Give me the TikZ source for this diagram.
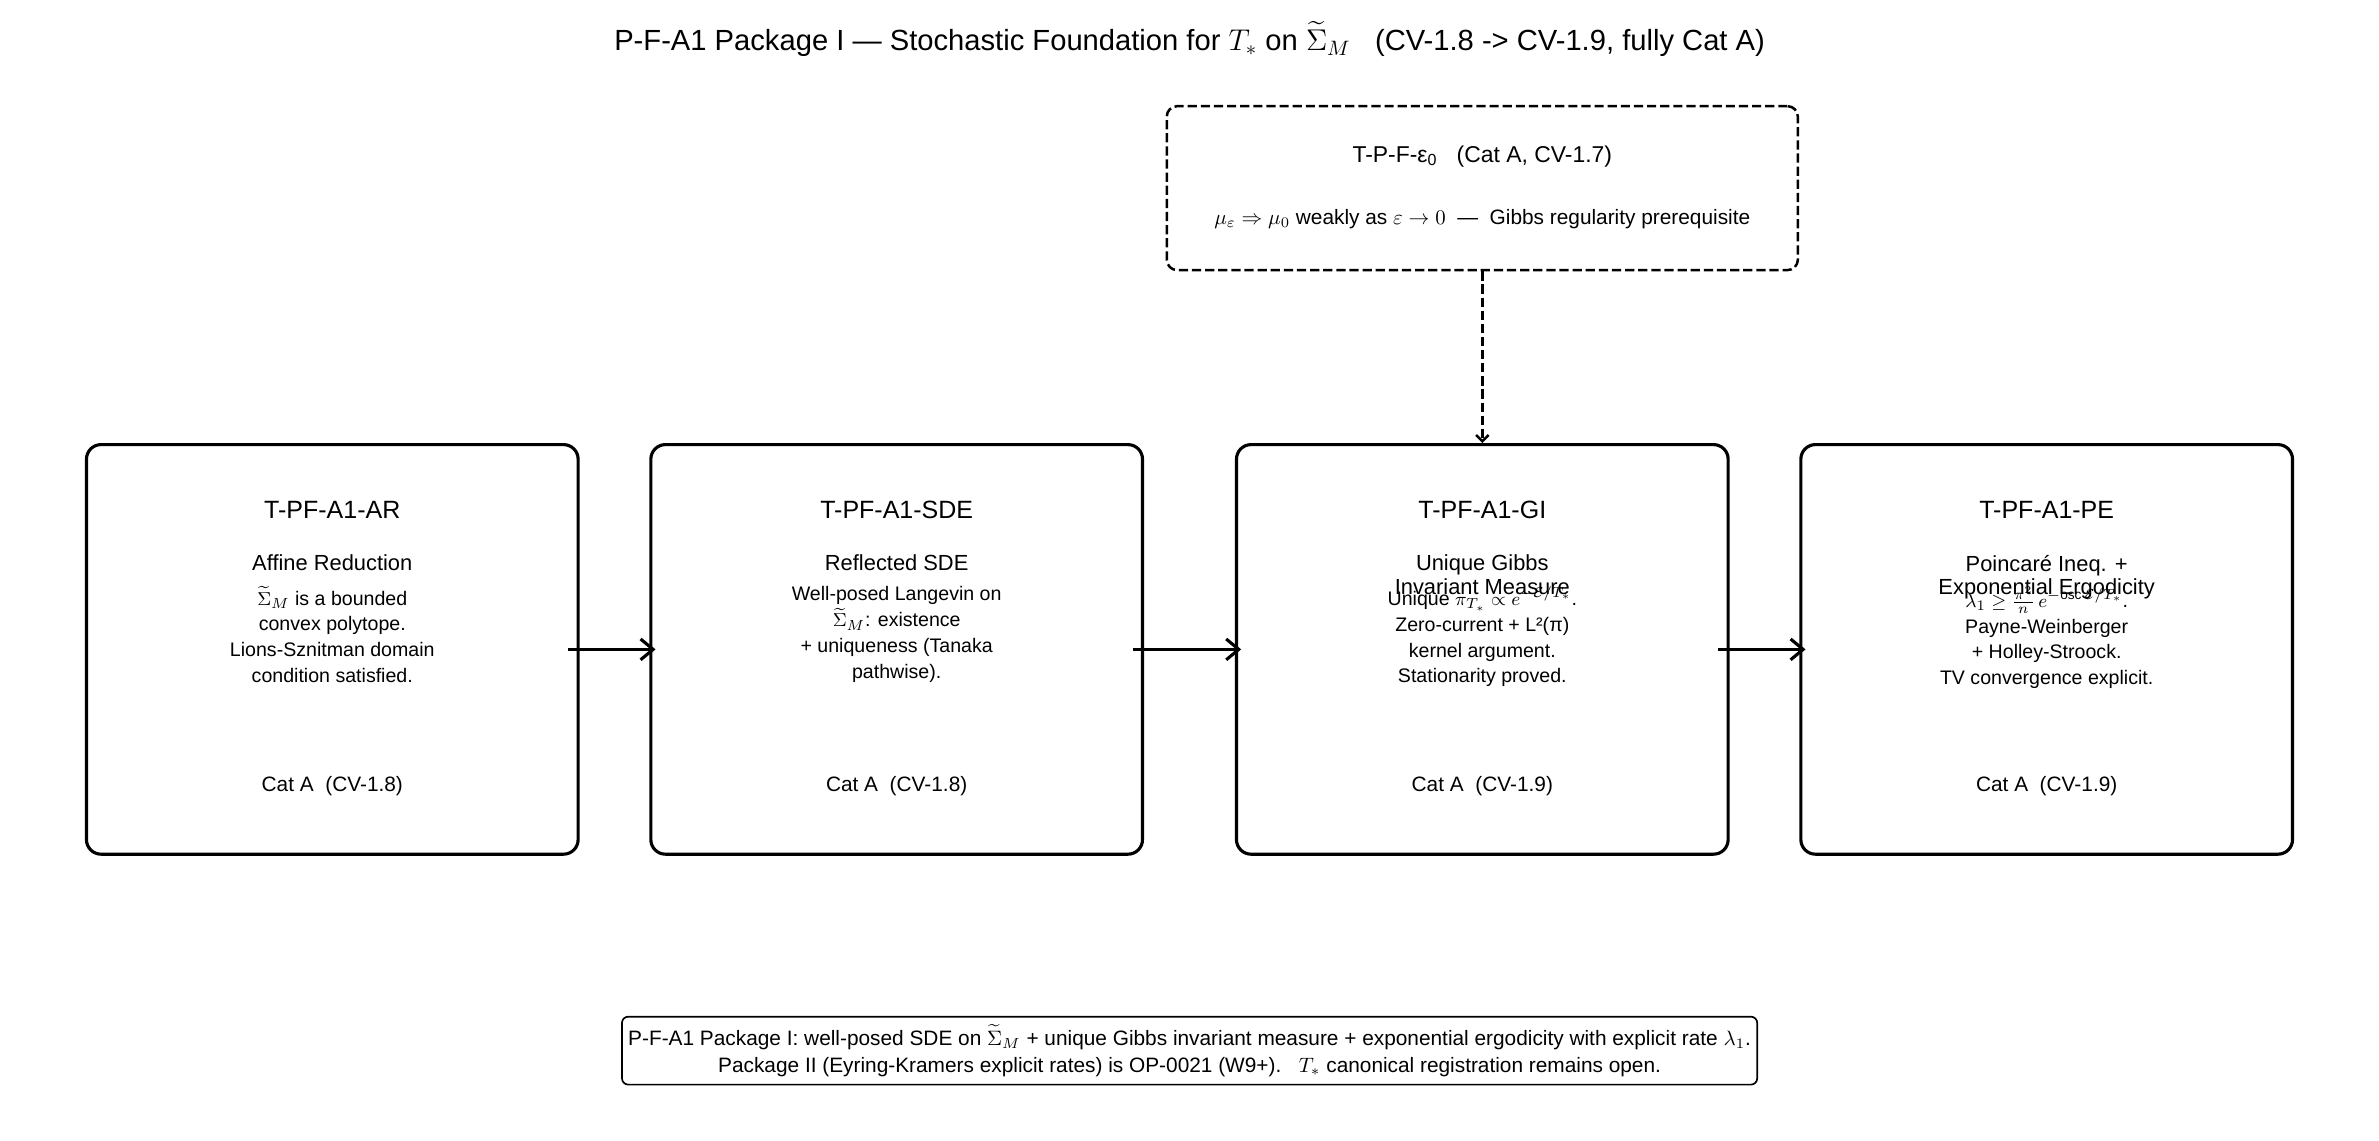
\documentclass[tikz,border=0pt]{standalone}
\usepackage{fontspec}
\setmainfont{Liberation Sans}
\usepackage{amsmath,amssymb}
\usetikzlibrary{positioning,arrows.meta}

\begin{document}
\begin{tikzpicture}[>={Straight Barb[length=6pt,width=10pt]}, node distance=270.9pt, align=center,
  stage/.style={draw, line width=1.5pt, rounded corners=7pt, minimum width=236pt, minimum height=196.6pt},
  stagetitle/.style={font=\fontsize{12}{14.4}\selectfont},
  stagesub/.style={anchor=north, inner sep=0pt, font=\fontsize{10.5}{11.5}\selectfont},
  stagebody/.style={anchor=north, inner sep=0pt, font=\fontsize{9.4}{12.4}\selectfont},
  stagecat/.style={font=\fontsize{10}{12}\selectfont},
  flow/.style={->, line width=1.5pt}]

% Canvas
\useasboundingbox (0,0) rectangle (1141.92pt,-547.2pt);

% Title
\node (title) at (571pt,-18.9pt) [font=\fontsize{14}{16}\selectfont] {P-F-A1 Package I — Stochastic Foundation for $T_*$ on $\widetilde{\Sigma}_M$\ \ \ (CV-1.8 -> CV-1.9, fully Cat A)};

% Stages
\node (ar) at (159.5pt,-311.7pt) [stage] {};
\node (sde) [right of=ar, stage] {};
\node (gi) [right of=sde, node distance=281.1pt, stage] {};
\node (pe) [right of=gi, stage] {};

% Prerequisite
\node (eps) [above of=gi, node distance=221.4pt, draw, line width=1.2pt, dash pattern=on 4.4pt off 1.9pt, rounded corners=5pt, minimum width=302.9pt, minimum height=78.7pt] {};
\node (eps-t) at ([yshift=-24.8pt]eps.north) [font=\fontsize{11}{13}\selectfont] {T-P-F-ε\textsubscript{0}\ \ \ (Cat A, CV-1.7)};
\node (eps-b) at ([yshift=-54.6pt]eps.north) [font=\fontsize{10}{12}\selectfont] {$\mu_\varepsilon \Rightarrow \mu_0$ weakly as $\varepsilon \to 0$\ \ —\ \ Gibbs regularity prerequisite};

% Stage texts
\node (ar-t) at ([yshift=-32.1pt]ar.north) [stagetitle] {T-PF-A1-AR};
\node (ar-s) at ([yshift=-53.5pt]ar.north) [stagesub] {Affine Reduction};
\node (ar-b) at ([yshift=-68.7pt]ar.north) [stagebody] {$\widetilde{\Sigma}_M$ is a bounded\\convex polytope.\\Lions-Sznitman domain\\condition satisfied.};
\node (ar-c) at ([yshift=33.5pt]ar.south) [stagecat] {Cat A\ \ (CV-1.8)};

\node (sde-t) at ([yshift=-32.1pt]sde.north) [stagetitle] {T-PF-A1-SDE};
\node (sde-s) at ([yshift=-53.5pt]sde.north) [stagesub] {Reflected SDE};
\node (sde-b) at ([yshift=-68.7pt]sde.north) [stagebody] {Well-posed Langevin on\\$\widetilde{\Sigma}_M$: existence\\+ uniqueness (Tanaka\\pathwise).};
\node (sde-c) at ([yshift=33.5pt]sde.south) [stagecat] {Cat A\ \ (CV-1.8)};

\node (gi-t) at ([yshift=-32.1pt]gi.north) [stagetitle] {T-PF-A1-GI};
\node (gi-s) at ([yshift=-53.5pt]gi.north) [stagesub] {Unique Gibbs\\Invariant Measure};
\node (gi-b) at ([yshift=-68.7pt]gi.north) [stagebody] {Unique $\pi_{T_*} \propto e^{-\mathcal{E}/T_*}$.\\Zero-current + L²(π)\\kernel argument.\\Stationarity proved.};
\node (gi-c) at ([yshift=33.5pt]gi.south) [stagecat] {Cat A\ \ (CV-1.9)};

\node (pe-t) at ([yshift=-32.1pt]pe.north) [stagetitle] {T-PF-A1-PE};
\node (pe-s) at ([yshift=-53.5pt]pe.north) [stagesub] {Poincaré Ineq. +\\Exponential Ergodicity};
\node (pe-b) at ([yshift=-68.7pt]pe.north) [stagebody] {$\lambda_1 \geq \tfrac{\pi^2}{n}\,e^{-\mathrm{osc}\,\mathcal{E}/T_*}$.\\Payne-Weinberger\\+ Holley-Stroock.\\TV convergence explicit.};
\node (pe-c) at ([yshift=33.5pt]pe.south) [stagecat] {Cat A\ \ (CV-1.9)};

% Summary
\node (note) at (571pt,-504.3pt) [draw, line width=0.8pt, rounded corners=3pt, inner xsep=3pt, minimum width=541.9pt, minimum height=32.6pt, font=\fontsize{10}{13}\selectfont] {P-F-A1 Package I: well-posed SDE on $\widetilde{\Sigma}_M$ + unique Gibbs invariant measure + exponential ergodicity with explicit rate $\lambda_1$.\\Package II (Eyring-Kramers explicit rates) is OP-0021 (W9+).\ \ \ $T_*$ canonical registration remains open.};

% Arrows
\draw[flow] ([xshift=-5.5pt]ar.east) -- ([xshift=3pt]sde.west);
\draw[flow] ([xshift=-5.5pt]sde.east) -- ([xshift=3pt]gi.west);
\draw[flow] ([xshift=-5.5pt]gi.east) -- ([xshift=3pt]pe.west);
\draw[->, line width=1.2pt, dash pattern=on 4.4pt off 1.9pt, >={Straight Barb[length=3pt,width=6pt]}] (eps) -- (gi);

\end{tikzpicture}
\end{document}
